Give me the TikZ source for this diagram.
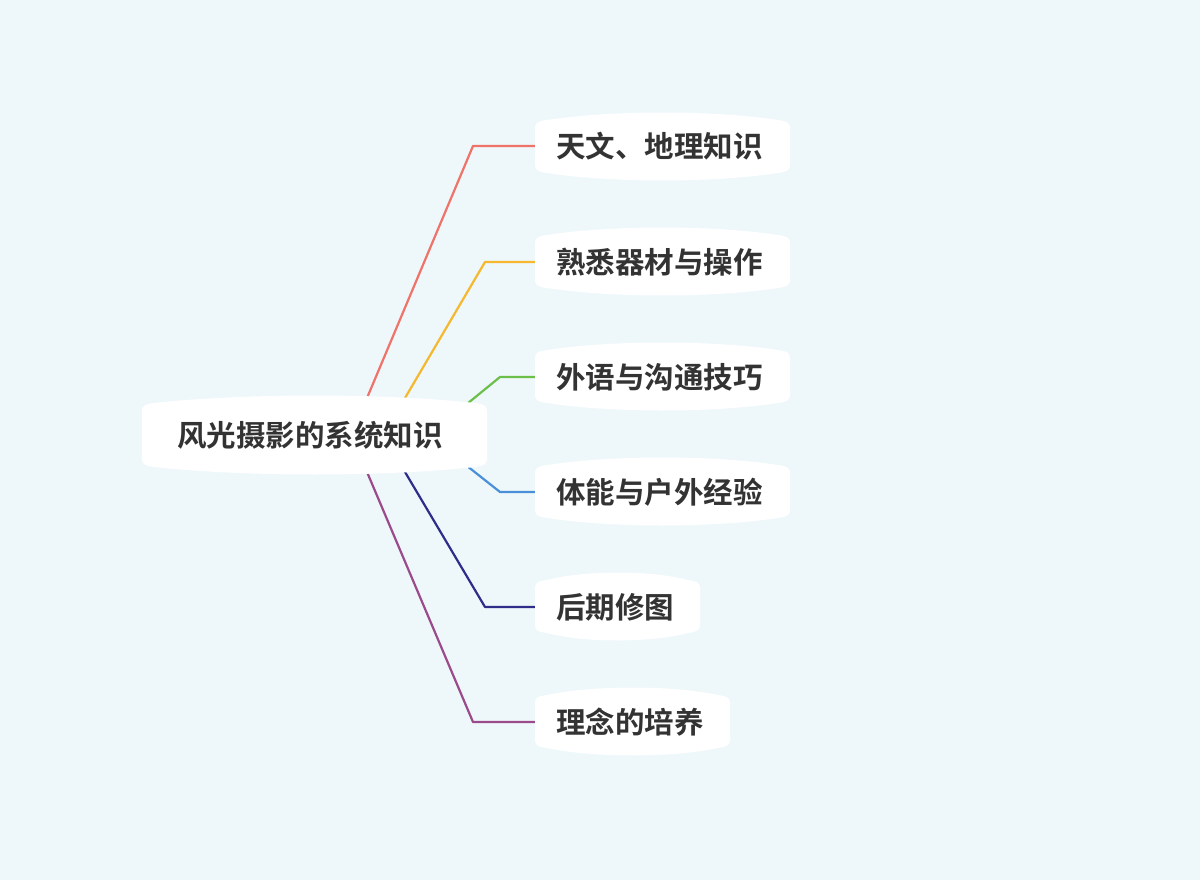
\documentclass[tikz,border=0pt]{standalone}
\usepackage{fontspec}
\newfontfamily\cjk{Noto Sans CJK SC}[BoldFont={Noto Sans CJK SC Bold}]
\definecolor{bg}{HTML}{EEF7FA}
\definecolor{txt}{HTML}{333333}
\definecolor{cRed}{HTML}{F0736A}
\definecolor{cOrg}{HTML}{F5B82E}
\definecolor{cGrn}{HTML}{6CC04A}
\definecolor{cBlu}{HTML}{4A90D9}
\definecolor{cNav}{HTML}{2E2E8A}
\definecolor{cPur}{HTML}{9B4B8A}
\newcommand{\bulgebox}[4]{%
 \fill[white] (#1,#2+18) .. controls (#1,#2+13) and (#1+3,#2+11) .. (#1+12,#2+10)
  .. controls ({#1+0.3*(#3-#1)},#2) and ({#3-0.3*(#3-#1)},#2) .. (#3-12,#2+10)
  .. controls (#3-3,#2+11) and (#3,#2+13) .. (#3,#2+18)
  -- (#3,#4-18) .. controls (#3,#4-13) and (#3-3,#4-11) .. (#3-12,#4-10)
  .. controls ({#3-0.3*(#3-#1)},#4) and ({#1+0.3*(#3-#1)},#4) .. (#1+12,#4-10)
  .. controls (#1+3,#4-11) and (#1,#4-13) .. (#1,#4-18) -- cycle;}
\tikzset{lbl/.style={anchor=west,inner sep=0pt,text=txt,font=\cjk\bfseries\fontsize{29.5}{32}\selectfont},
 br/.style={line width=2.2pt,line join=round}}
\begin{document}
\begin{tikzpicture}[x=1pt,y=-1pt]
\fill[bg] (0,0) rectangle (1200,880);
\useasboundingbox (0,0) rectangle (1200,880);
\coordinate (r1) at (367,398); \coordinate (k1) at (473,146); \coordinate (e1) at (536,146);
\coordinate (r2) at (405,398); \coordinate (k2) at (485,262); \coordinate (e2) at (536,262);
\coordinate (r3) at (462,408); \coordinate (k3) at (500,377); \coordinate (e3) at (536,377);
\coordinate (r4) at (462,462); \coordinate (k4) at (500,492); \coordinate (e4) at (536,492);
\coordinate (r5) at (405,472); \coordinate (k5) at (485,607); \coordinate (e5) at (536,607);
\coordinate (r6) at (367,472); \coordinate (k6) at (473,722); \coordinate (e6) at (536,722);
\draw[br,cRed] (r1) -- (k1) -- (e1);
\draw[br,cOrg] (r2) -- (k2) -- (e2);
\draw[br,cGrn] (r3) -- (k3) -- (e3);
\draw[br,cBlu] (r4) -- (k4) -- (e4);
\draw[br,cNav] (r5) -- (k5) -- (e5);
\draw[br,cPur] (r6) -- (k6) -- (e6);
\bulgebox{142}{393}{487}{477}
\bulgebox{535}{110}{790}{183}
\bulgebox{535}{225}{790}{298}
\bulgebox{535}{340}{790}{413}
\bulgebox{535}{455}{790}{528}
\bulgebox{535}{570}{700}{643}
\bulgebox{535}{685}{730}{758}
\node[lbl] (root) at (177,435) {风光摄影的系统知识};
\node[lbl] (n1) at (556,146) {天文、地理知识};
\node[lbl] (n2) at (556,262) {熟悉器材与操作};
\node[lbl] (n3) at (556,377) {外语与沟通技巧};
\node[lbl] (n4) at (556,492) {体能与户外经验};
\node[lbl] (n5) at (556,607) {后期修图};
\node[lbl] (n6) at (556,722) {理念的培养};
\end{tikzpicture}
\end{document}
